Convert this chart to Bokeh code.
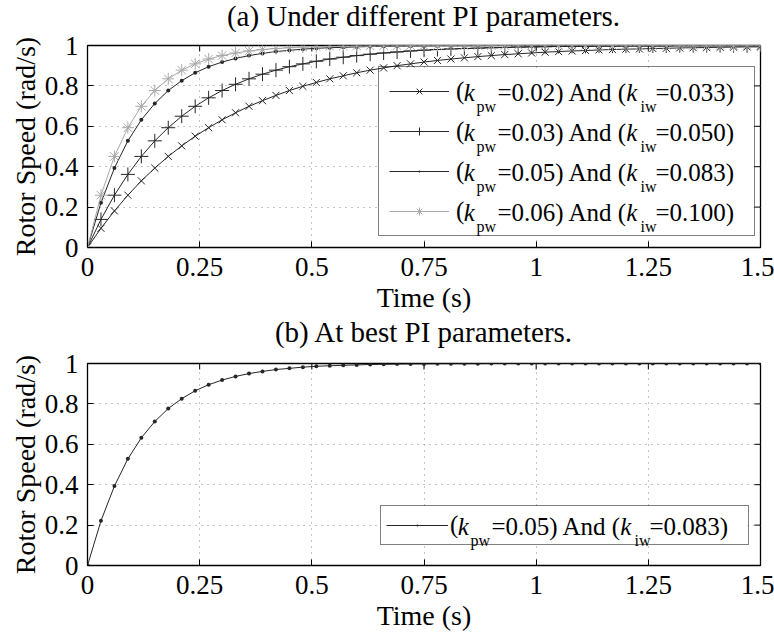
import math
from bokeh.plotting import figure
from bokeh.models import (Range1d, FixedTicker, Legend, LegendItem, ColumnDataSource, Div)
from bokeh.layouts import column
from bokeh.embed import file_html
from bokeh.resources import INLINE
from bokeh.core.properties import value

# ---------------- data ----------------
t = [0.00, 0.03, 0.06, 0.09, 0.12, 0.15, 0.18, 0.21, 0.24, 0.27,
     0.30, 0.33, 0.36, 0.39, 0.42, 0.45, 0.48, 0.51, 0.54, 0.57,
     0.60, 0.63, 0.66, 0.69, 0.72, 0.75, 0.78, 0.81, 0.84, 0.87,
     0.90, 0.93, 0.96, 0.99, 1.02, 1.05, 1.08, 1.11, 1.14, 1.17,
     1.20, 1.23, 1.26, 1.29, 1.32, 1.35, 1.38, 1.41, 1.44, 1.47, 1.50]

# (kpw=0.02, kiw=0.033)
speed_1 = [0.000, 0.095, 0.181, 0.259, 0.330, 0.393, 0.451, 0.503, 0.551, 0.593,
           0.632, 0.667, 0.699, 0.727, 0.753, 0.777, 0.798, 0.817, 0.835, 0.850,
           0.865, 0.878, 0.889, 0.900, 0.909, 0.918, 0.926, 0.933, 0.939, 0.945,
           0.950, 0.955, 0.959, 0.963, 0.967, 0.970, 0.973, 0.975, 0.978, 0.980,
           0.982, 0.983, 0.985, 0.986, 0.988, 0.989, 0.990, 0.991, 0.992, 0.993, 0.993]
# (kpw=0.03, kiw=0.050)
speed_2 = [0.000, 0.139, 0.259, 0.362, 0.451, 0.528, 0.593, 0.650, 0.699, 0.741,
           0.777, 0.808, 0.835, 0.858, 0.878, 0.895, 0.909, 0.922, 0.933, 0.942,
           0.950, 0.957, 0.963, 0.968, 0.973, 0.977, 0.980, 0.983, 0.985, 0.987,
           0.989, 0.990, 0.992, 0.993, 0.994, 0.995, 0.996, 0.996, 0.997, 0.997,
           0.998, 0.998, 0.998, 0.998, 0.999, 0.999, 0.999, 0.999, 0.999, 0.999, 0.999]
# (kpw=0.05, kiw=0.083)
speed_3 = [0.000, 0.221, 0.393, 0.528, 0.632, 0.713, 0.777, 0.826, 0.865, 0.895,
           0.918, 0.936, 0.950, 0.961, 0.970, 0.976, 0.982, 0.986, 0.989, 0.991,
           0.993, 0.995, 0.996, 0.997, 0.998, 0.998, 0.999, 0.999, 0.999, 0.999,
           1.000, 1.000, 1.000, 1.000, 1.000, 1.000, 1.000, 1.000, 1.000, 1.000,
           1.000, 1.000, 1.000, 1.000, 1.000, 1.000, 1.000, 1.000, 1.000, 1.000, 1.000]
# (kpw=0.06, kiw=0.100)
speed_4 = [0.000, 0.259, 0.451, 0.593, 0.699, 0.777, 0.835, 0.878, 0.909, 0.933,
           0.950, 0.963, 0.973, 0.980, 0.985, 0.989, 0.992, 0.994, 0.996, 0.997,
           0.998, 0.998, 0.999, 0.999, 1.000, 1.000, 1.000, 1.000, 1.000, 1.000,
           1.000, 1.000, 1.000, 1.000, 1.000, 1.000, 1.000, 1.000, 1.000, 1.000,
           1.000, 1.000, 1.000, 1.000, 1.000, 1.000, 1.000, 1.000, 1.000, 1.000, 1.000]

kpw_values = ["0.02", "0.03", "0.05", "0.06"]
kiw_values = ["0.033", "0.050", "0.083", "0.100"]

x_ticks = [0, 0.25, 0.5, 0.75, 1, 1.25, 1.5]
x_tick_labels = ["0", "0.25", "0.5", "0.75", "1", "1.25", "1.5"]
y_ticks = [0, 0.2, 0.4, 0.6, 0.8, 1]
y_tick_labels = ["0", "0.2", "0.4", "0.6", "0.8", "1"]

title_a = "(a) Under different PI parameters."
title_b = "(b) At best PI parameters."
x_label = "Time (s)"
y_label = "Rotor Speed (rad/s)"

# ---------------- styling ----------------
FONT = "Liberation Serif"
DARK = "#262626"
LIGHT = "#a8a8a8"
W = 774
X_MAX = 1.5
Y_MAX = 1.0
FRAME_W = 673
FRAME_H = 202
LEFT = 87
TITLE_H = 29


def style_axis(ax, ticks, labels):
    ax.ticker = FixedTicker(ticks=ticks)
    ax.major_tick_in = 6
    ax.major_tick_out = 0
    ax.minor_tick_in = 0
    ax.minor_tick_out = 0
    ax.major_tick_line_color = "black"
    ax.axis_line_color = None
    ax.major_label_overrides = dict(zip(ticks, labels))
    ax.major_label_text_font = FONT
    ax.major_label_text_font_size = "27px"
    ax.major_label_text_color = "black"
    ax.major_label_text_line_height = 1.0
    ax.axis_label_text_font = FONT
    ax.axis_label_text_font_size = "28px"
    ax.axis_label_text_font_style = "normal"
    ax.axis_label_text_color = "black"
    ax.axis_label_text_line_height = 1.0


def make_title(text):
    return Div(text=text, width=FRAME_W, height=TITLE_H, margin=(0, 0, 0, LEFT),
               styles={"font-family": FONT, "font-size": "29px",
                       "line-height": "%dpx" % TITLE_H, "transform": "translateY(2px)",
                       "overflow": "visible",
                       "text-align": "center", "color": "black", "white-space": "nowrap"})


def make_fig(height, b_top, b_bottom):
    p = figure(width=W, height=height, x_range=Range1d(0, X_MAX), y_range=Range1d(0, Y_MAX),
               output_backend="svg", toolbar_location=None,
               min_border_left=LEFT, min_border_right=14,
               min_border_top=b_top, min_border_bottom=b_bottom)
    p.background_fill_color = "white"
    p.border_fill_alpha = 0
    p.outline_line_color = "black"
    p.outline_line_width = 1.3

    style_axis(p.xaxis[0], x_ticks, x_tick_labels)
    style_axis(p.yaxis[0], y_ticks, y_tick_labels)
    p.xaxis[0].axis_label = x_label
    p.yaxis[0].axis_label = y_label
    p.xaxis[0].major_label_standoff = 10
    p.xaxis[0].axis_label_standoff = 3
    p.yaxis[0].major_label_standoff = 9
    p.yaxis[0].axis_label_standoff = 1

    # inward ticks on the top and right edges of the box
    p.ray(x=x_ticks, y=[Y_MAX] * len(x_ticks), length=6, length_units="screen",
          angle=-math.pi / 2, line_color="black", line_width=1)
    p.ray(x=[X_MAX] * len(y_ticks), y=y_ticks, length=6, length_units="screen",
          angle=math.pi, line_color="black", line_width=1)

    p.xgrid.ticker = FixedTicker(ticks=x_ticks)
    p.ygrid.ticker = FixedTicker(ticks=y_ticks)
    for g in (p.xgrid[0], p.ygrid[0]):
        g.grid_line_color = "#8a8a8a"
        g.grid_line_dash = "1 5"
        g.grid_line_width = 1
    return p


def legend_backing(p, left_px, bottom_px, w_px, h_px):
    # white area behind the (transparent) legend, so the grid does not show through
    p.quad(left=left_px / FRAME_W * X_MAX, right=(left_px + w_px) / FRAME_W * X_MAX,
           bottom=bottom_px / FRAME_H * Y_MAX, top=(bottom_px + h_px) / FRAME_H * Y_MAX,
           fill_color="white", line_color=None)


def legend_text(p, kp, ki, dxs, rows):
    # text pieces anchored at the frame origin and shifted in pixels
    xs, ys, txt, xo, yo, size, style = [], [], [], [], [], [], []
    for i in range(len(kp)):
        pieces = [("k", dxs[0], rows[i], "25px", "italic"),
                  ("pw", dxs[1], rows[i] + 14, "16px", "normal"),
                  ("=" + kp[i] + ") And (", dxs[2], rows[i], "25px", "normal"),
                  ("k", dxs[3], rows[i], "25px", "italic"),
                  ("iw", dxs[4], rows[i] + 14, "16px", "normal"),
                  ("=" + ki[i] + ")", dxs[5], rows[i], "25px", "normal")]
        for s, dx, b, fs, st in pieces:
            xs.append(0)
            ys.append(0)
            txt.append(s)
            xo.append(dx)
            yo.append(b)
            size.append(fs)
            style.append(st)
    src = ColumnDataSource(dict(x=xs, y=ys, text=txt, xo=xo, yo=yo, size=size, style=style))
    p.text(x="x", y="y", text="text", x_offset="xo", y_offset="yo",
           text_font_size="size", text_font_style="style", text_font=value(FONT),
           text_baseline="middle", text_align="left", text_color="black",
           source=src)


def make_legend(items, loc, glyph_w, standoff, label_w, spacing, padding):
    return Legend(items=items, location=loc, orientation="vertical",
                  glyph_width=glyph_w, glyph_height=20, label_height=28,
                  label_width=label_w, label_standoff=standoff,
                  spacing=spacing, padding=padding, margin=0,
                  label_text_font=FONT, label_text_font_size="25px",
                  label_text_color="black", label_text_line_height=1.0,
                  border_line_color="black", border_line_width=1.3,
                  background_fill_alpha=0)


# ---------------- top figure ----------------
p1 = make_fig(287, 16, 69)
legend_backing(p1, 291, 11, 375, 168)

series = [(speed_1, "x", 10, DARK),
          (speed_2, "cross", 14, DARK),
          (speed_3, "dot", 16, DARK),
          (speed_4, "asterisk", 12, LIGHT)]
items = []
for ys, mk, sz, col in series:
    rl = p1.line(t, ys, line_color=col, line_width=1)
    rm = p1.scatter(t, ys, marker=mk, size=sz, line_color=col, fill_color=col, line_width=1)
    items.append(LegendItem(label=value("("), renderers=[rl, rm]))

p1.add_layout(make_legend(items, (291, 11), 60, 7, 288, 12, 10))
legend_text(p1, kpw_values, kiw_values, [376.3, 389, 410, 538.8, 553, 568],
            [-155, -115, -75, -35])

# ---------------- bottom figure ----------------
p2 = make_fig(290, 18, 70)
legend_backing(p2, 293, 20, 367, 38)
rl = p2.line(t, speed_3, line_color=DARK, line_width=1)
rm = p2.scatter(t, speed_3, marker="dot", size=16, line_color=DARK, fill_color=DARK)
p2.add_layout(make_legend([LegendItem(label=value("("), renderers=[rl, rm])],
                          (293, 20), 62, 2, 293, 0, 5))
legend_text(p2, [kpw_values[2]], [kiw_values[2]], [370.3, 383, 404, 532.8, 547, 562], [-39])

layout = column(make_title(title_a), p1, make_title(title_b), p2)
open("out.html", "w").write(file_html(layout, INLINE))
